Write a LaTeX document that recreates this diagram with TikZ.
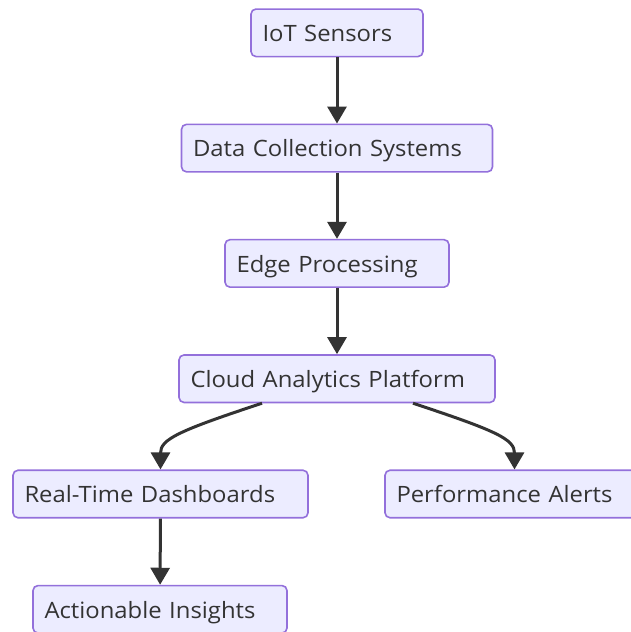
\documentclass[tikz,border=0pt]{standalone}
\usepackage{fontspec}
\setmainfont{Open Sans}[FakeStretch=1.06]
\usepackage{tikz}
\usetikzlibrary{positioning,arrows.meta}

\definecolor{boxfill}{HTML}{ECECFF}
\definecolor{boxline}{HTML}{9370DB}
\definecolor{ink}{HTML}{333333}

\begin{document}
\begin{tikzpicture}[
  box/.style={draw=boxline, fill=boxfill, line width=1.6pt, rounded corners=5pt,
    minimum height=47.5pt, inner ysep=0pt, inner xsep=11.5pt, align=left, text=ink,
    text height=18pt, text depth=0.6pt,
    font=\fontsize{22.5pt}{26pt}\selectfont},
  flow/.style={draw=ink, line width=3pt, -{Triangle[width=19pt,length=17pt]}}
]
\useasboundingbox (0,0) rectangle (631pt,-632pt);

% nodes %
\node[box, text width=149pt] (iot) at (337pt,-32.8pt) {IoT Sensors};
\node[box, text width=288pt, below = 66.2pt of iot] (collect) {Data Collection Systems};
\node[box, text width=201pt, below = 66.2pt of collect] (edge) {Edge Processing};
\node[box, text width=293pt, below = 66.2pt of edge] (cloud) {Cloud Analytics Platform};
\node[box, text width=272pt, below = 66.2pt of cloud, xshift=-176.5pt] (dash) {Real-Time Dashboards};
\node[box, text width=236pt, below = 66.2pt of cloud, xshift=177.5pt] (alerts) {Performance Alerts};
\node[box, text width=231pt, below = 66.2pt of dash, xshift=-0.5pt] (insight) {Actionable Insights};

% edges %
\draw[flow] (iot) -- (collect);
\draw[flow] (collect) -- (edge);
\draw[flow] (edge) -- (cloud);
\draw[flow] ([xshift=-75pt]cloud.south) .. controls +(-85pt,-28pt) and +(0pt,30pt) .. (dash.north);
\draw[flow] ([xshift=76pt]cloud.south) .. controls +(85pt,-28pt) and +(0pt,30pt) .. (alerts.north);
\draw[flow] (dash) -- (insight);

\end{tikzpicture}
\end{document}
